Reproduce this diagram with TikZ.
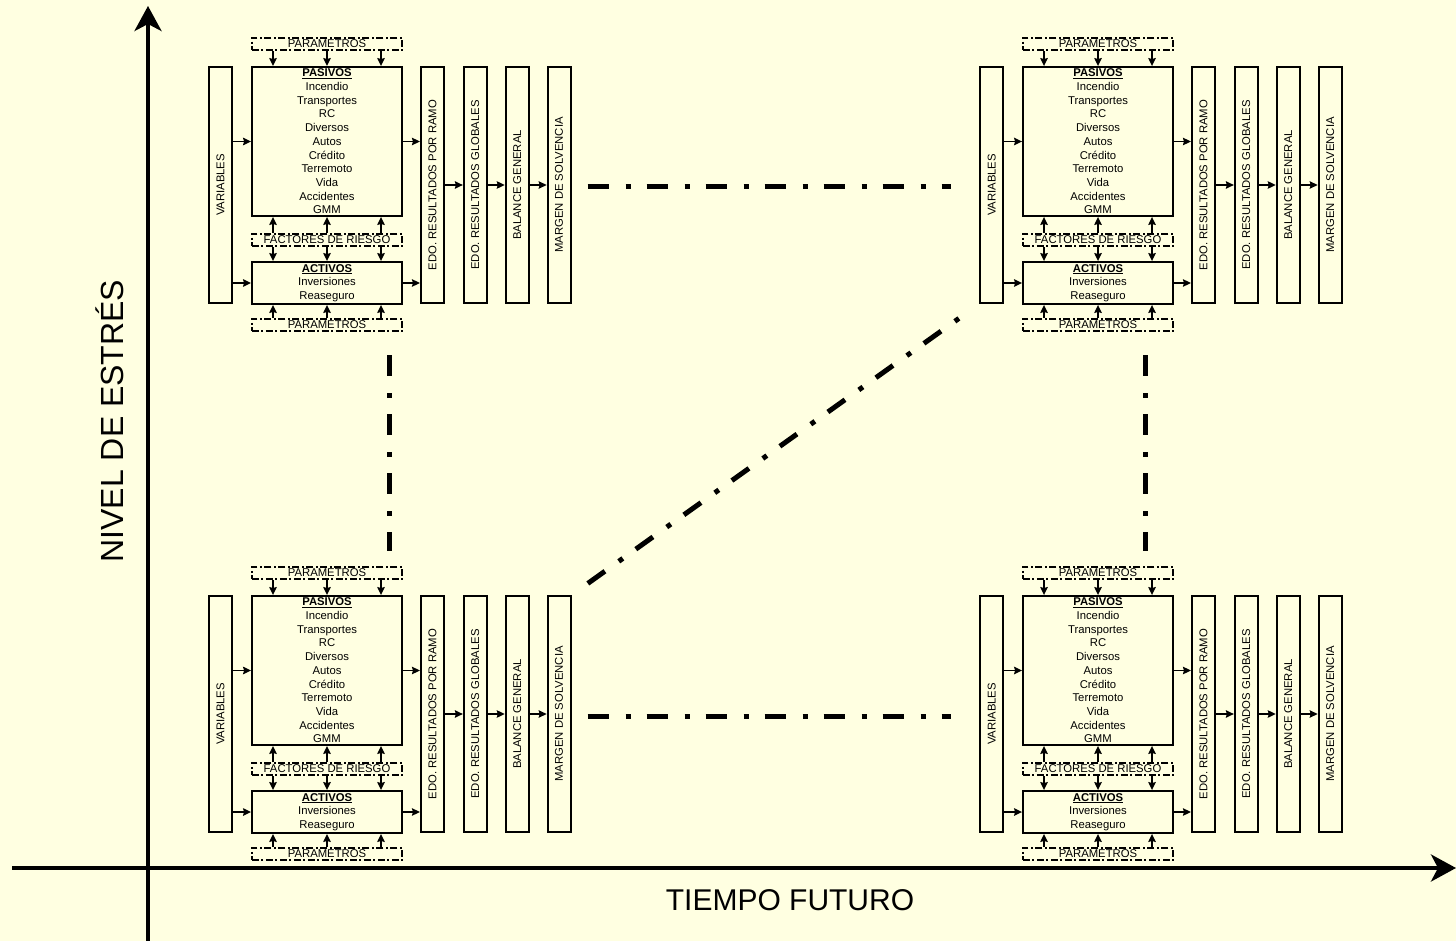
\documentclass[tikz,border=0pt]{standalone}
\usepackage{fontspec}
\setmainfont{Liberation Sans}
\usetikzlibrary{arrows.meta,positioning}
\definecolor{fondo}{RGB}{255,255,225}

\begin{document}
\begin{tikzpicture}
%defines
  [x=1pt,y=-1pt,
caja/.style={draw,line width=1.9pt,inner sep=0pt,align=center,
font=\fontsize{11.3}{13.7}\selectfont},
pasivo/.style={caja,minimum width=150pt,minimum height=149pt},
activo/.style={caja,minimum width=150pt,minimum height=42pt},
columna/.style={caja,minimum width=23pt,minimum height=236pt},
param/.style={draw,line width=1.6pt,dash pattern=on 7pt off 2.5pt on 2pt off 2.5pt,
minimum width=150.5pt,minimum height=12.5pt,inner sep=0pt,
font=\fontsize{11.3}{13.7}\selectfont},
flecha/.style={->,>={Stealth[length=8pt,width=7.5pt,inset=1pt]},line width=1.4pt},
eje/.style={->,>={Stealth[length=25pt,width=27pt,inset=7pt]},line width=4pt},
raya/.style={line width=5pt,dash pattern=on 21pt off 17pt on 5pt off 16pt},
titulo/.style={font=\fontsize{30}{36}\selectfont}]
\useasboundingbox (0,0) rectangle (1456,941);
\fill[fondo] (0,0) rectangle (1456,941);

\foreach \n/\dx/\dy in {a/0/0,b/771/0,c/0/529,d/771/529}{
\begin{scope}[shift={(\dx,\dy)}]
\node[pasivo] (\n-pas) at (327,141.5) {\underline{\textbf{PASIVOS}}\\Incendio\\Transportes\\RC\\Diversos\\Autos\\Crédito\\Terremoto\\Vida\\Accidentes\\GMM};
\node[param] (\n-pt) [above=15pt of \n-pas] {PARAMETROS};
\node[param] (\n-fr) [below=16pt of \n-pas] {FACTORES DE RIESGO};
\node[activo] (\n-act) [below=14pt of \n-fr] {\underline{\textbf{ACTIVOS}}\\Inversiones\\Reaseguro};
\node[param] (\n-pb) [below=13pt of \n-act] {PARAMETROS};
\node[columna] (\n-var) [left=18pt of \n-pas.north west,anchor=north east] {\rotatebox{90}{VARIABLES}};
\node[columna] (\n-edo) [right=17pt of \n-pas.north east,anchor=north west] {\rotatebox{90}{EDO. RESULTADOS POR RAMO}};
\node[columna] (\n-glo) [right=18pt of \n-edo] {\rotatebox{90}{EDO. RESULTADOS GLOBALES}};
\node[columna] (\n-bal) [right=17pt of \n-glo] {\rotatebox{90}{BALANCE GENERAL}};
\node[columna] (\n-mar) [right=17pt of \n-bal] {\rotatebox{90}{MARGEN DE SOLVENCIA}};
\draw[flecha] (\n-var.east |- \n-pas.west) -- (\n-pas.west);
\draw[flecha] (\n-var.east |- \n-act.west) -- (\n-act.west);
\draw[flecha] (\n-pas.east) -- (\n-edo.west |- \n-pas.east);
\draw[flecha] (\n-act.east) -- (\n-edo.west |- \n-act.east);
\draw[flecha] (\n-edo.east) -- (\n-glo.west);
\draw[flecha] (\n-glo.east) -- (\n-bal.west);
\draw[flecha] (\n-bal.east) -- (\n-mar.west);
\foreach \d in {-54,0,54}{
\draw[flecha] ([xshift=\d]\n-pt.south) -- ([xshift=\d]\n-pas.north);
\draw[flecha] ([xshift=\d]\n-fr.north) -- ([xshift=\d]\n-pas.south);
\draw[flecha] ([xshift=\d]\n-fr.south) -- ([xshift=\d]\n-act.north);
\draw[flecha] ([xshift=\d]\n-pb.north) -- ([xshift=\d]\n-act.south);
}
\end{scope}
}

\draw[raya,shorten <=16pt,shorten >=28pt] ([yshift=-2pt]a-mar.east) -- ([yshift=-2pt]b-var.west);
\draw[raya,shorten <=16pt,shorten >=28pt] ([yshift=-2pt]c-mar.east) -- ([yshift=-2pt]d-var.west);
\draw[raya,shorten <=23pt,shorten >=15pt] ([xshift=-14pt]a-pb.south east) -- ([xshift=-14pt]c-pt.north east);
\draw[raya,shorten <=23pt,shorten >=15pt] ([xshift=-29pt]b-pb.south east) -- ([xshift=-29pt]d-pt.north east);
\draw[raya,shorten <=20pt,shorten >=22pt] (c-mar.north east) -- (b-var.south west);

\coordinate (ybajo) at (148,941);
\coordinate (yalto) at (148,6);
\coordinate (xizq) at (12,868);
\coordinate (xder) at (1456,868);
\draw[eje] (ybajo) -- (yalto);
\draw[eje] (xizq) -- (xder);
\node[titulo,font=\fontsize{32}{38}\selectfont,rotate=90] (nivel) at (110,421) {NIVEL DE ESTRÉS};
\node[titulo] (tiempo) at (790,900) {TIEMPO FUTURO};
\end{tikzpicture}
\end{document}
